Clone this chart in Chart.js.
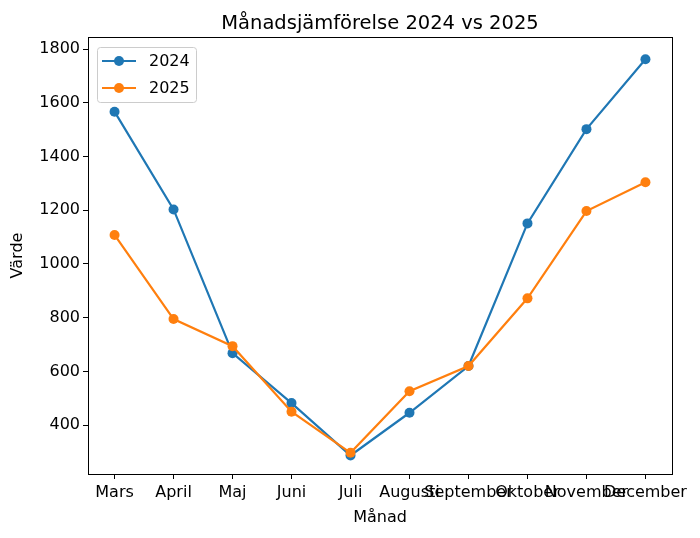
<!DOCTYPE html>
<html>
<head>
<meta charset="utf-8">
<script src="https://cdn.jsdelivr.net/npm/chart.js@4"></script>
<style>
    body { margin: 0; background: #fff; }
    canvas { display: block; }
</style>
</head>
<body>
<canvas id="myChart" width="700" height="538"></canvas>
<script>
const months = ['Mars', 'April', 'Maj', 'Juni', 'Juli', 'Augusti', 'September', 'Oktober', 'November', 'December']
const values2024 = [1567, 1203, 668, 482, 287, 446, 620, 1151, 1502, 1762]
const values2025 = [1108, 795, 694, 450, 297, 526, 620, 872, 1197, 1304]
const yTicks = [400, 600, 800, 1000, 1200, 1400, 1600, 1800]

const font = 'DejaVu Sans'

// frame round the plot + legend inside, like matplotlib
const frameAndLegend = {
    id: 'frameAndLegend',
    afterDraw(chart){
        const ctx = chart.ctx
        const a = chart.chartArea
        ctx.save()
        ctx.strokeStyle = '#000'
        ctx.lineWidth = 1
        ctx.strokeRect(Math.round(a.left) + 0.5, Math.round(a.top) + 0.5, Math.round(a.right - a.left), Math.round(a.bottom - a.top))

        // legend box
        const x = a.left + 9, y = a.top + 10, w = 99, h = 55
        ctx.fillStyle = 'rgba(255,255,255,0.8)'
        ctx.strokeStyle = '#cccccc'
        ctx.beginPath()
        ctx.roundRect(x + 0.5, y + 0.5, w, h, 3)
        ctx.fill()
        ctx.stroke()

        ctx.font = '16px "' + font + '"'
        ctx.textBaseline = 'middle'
        chart.data.datasets.forEach((ds, i) => {
            const cy = y + 14 + i * 27
            ctx.strokeStyle = ds.borderColor
            ctx.lineWidth = 2.2
            ctx.beginPath()
            ctx.moveTo(x + 5, cy)
            ctx.lineTo(x + 39, cy)
            ctx.stroke()
            ctx.fillStyle = ds.backgroundColor
            ctx.beginPath()
            ctx.arc(x + 22, cy, 5, 0, Math.PI * 2)
            ctx.fill()
            ctx.fillStyle = '#000'
            ctx.fillText(ds.label, x + 52, cy + 1)
        })
        ctx.restore()
    }
}

const toPoints = vals => vals.map((v, i) => ({x: i, y: v}))

const ctx = document.getElementById('myChart').getContext('2d');
const myChart = new Chart(ctx, {
    type: 'line',
    data: {
        datasets: [{
            label: '2024',
            data: toPoints(values2024),
            borderColor: '#1f77b4',
            backgroundColor: '#1f77b4',
            order: 1
        }, {
            label: '2025',
            data: toPoints(values2025),
            borderColor: '#ff7f0e',
            backgroundColor: '#ff7f0e',
            order: 0
        }]
    },
    options: {
        responsive: false,
        animation: false,
        layout: {
            padding: {left: 0, right: 28, top: 0, bottom: 0}
        },
        elements: {
            line: { borderWidth: 2.2, tension: 0 },
            point: { radius: 5, hoverRadius: 5, borderWidth: 0 }
        },
        plugins: {
            legend: { display: false },
            tooltip: { enabled: false },
            title: {
                display: true,
                fullSize: false,
                text: 'Månadsjämförelse 2024 vs 2025',
                color: '#000',
                font: { family: font, size: 19.5, weight: 'normal' },
                padding: { top: 12.5, bottom: 1.1 }
            }
        },
        scales: {
            x: {
                type: 'linear',
                min: -0.45,
                max: 9.45,
                afterFit(scale){ scale.height = 64 },
                ticks: {
                    stepSize: 1,
                    includeBounds: false,
                    autoSkip: false,
                    maxRotation: 0,
                    minRotation: 0,
                    padding: 4,
                    color: '#000',
                    font: { family: font, size: 16 },
                    callback: v => months[v]
                },
                grid: {
                    drawOnChartArea: false,
                    tickLength: 5,
                    tickColor: '#000'
                },
                border: { color: '#000' },
                title: {
                    display: true,
                    text: 'Månad',
                    color: '#000',
                    font: { family: font, size: 16 },
                    padding: { top: 0, bottom: 11 }
                }
            },
            y: {
                min: 218,
                max: 1845,
                afterFit(scale){ scale.width = 88 },
                afterBuildTicks(scale){ scale.ticks = yTicks.map(v => ({value: v})) },
                ticks: {
                    padding: 3,
                    color: '#000',
                    font: { family: font, size: 16 },
                    callback: v => String(v)
                },
                grid: {
                    drawOnChartArea: false,
                    tickLength: 5,
                    tickColor: '#000'
                },
                border: { color: '#000' },
                title: {
                    display: true,
                    text: 'Värde',
                    color: '#000',
                    font: { family: font, size: 16 },
                    padding: { top: 8, bottom: 0 }
                }
            }
        }
    },
    plugins: [frameAndLegend]
});
</script>
</body>
</html>
